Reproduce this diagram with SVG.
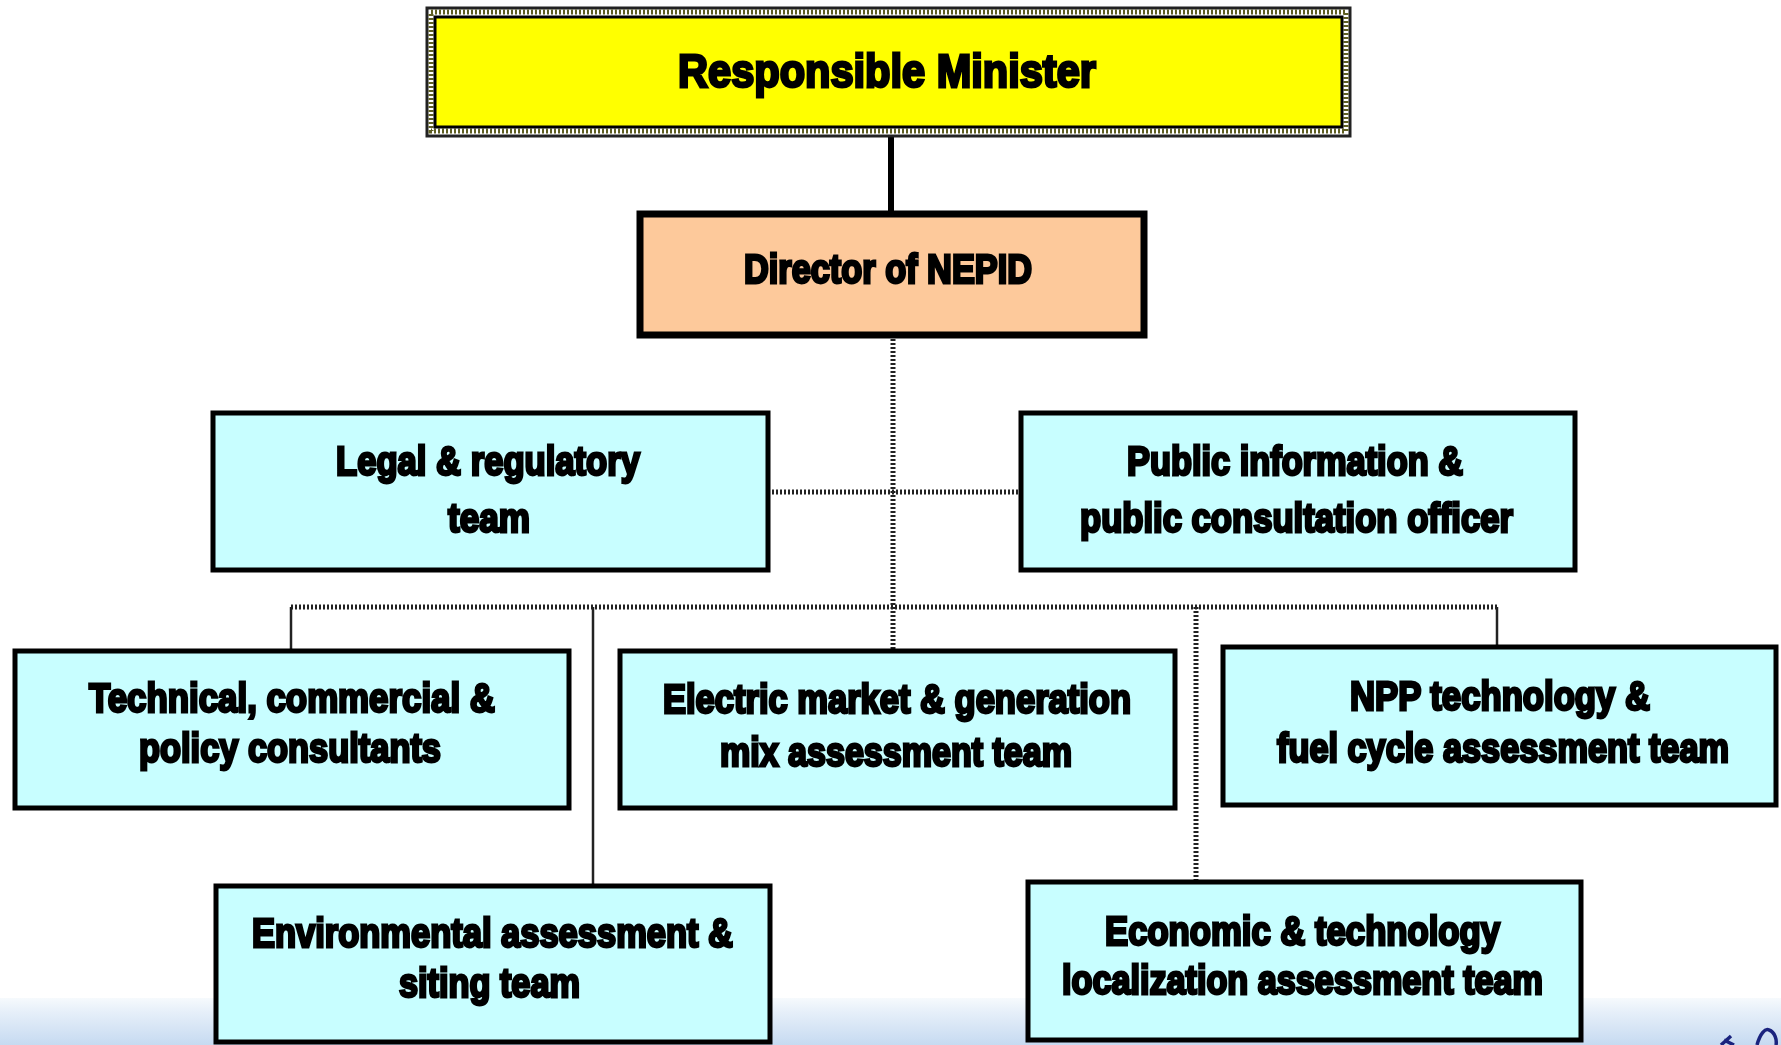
<svg xmlns="http://www.w3.org/2000/svg" width="1781" height="1045" viewBox="0 0 1781 1045">
<defs>
<linearGradient id="band" x1="0" y1="0" x2="0" y2="1"><stop offset="0" stop-color="#f6fafd"/><stop offset="0.3" stop-color="#e6eff9"/><stop offset="1" stop-color="#c6daf1"/></linearGradient>
<filter id="soft" x="-2%" y="-2%" width="104%" height="104%"><feGaussianBlur stdDeviation="0.5"/></filter>
</defs>
<style>
.t{font-family:"Liberation Sans",Arial,sans-serif;font-weight:700;font-size:40px;fill:#000;stroke:#000;stroke-width:2.8px}
.box{fill:#c8feff;stroke:#000;stroke-width:5px}
.edge{fill:none;stroke:#222;stroke-width:2.5px}
.d{fill:none;stroke:#222;stroke-width:5px;stroke-dasharray:2 2}
.heavy{fill:none;stroke:#000;stroke-width:6px}
</style>
<rect width="1781" height="1045" fill="#fff"/>
<rect id="footer" x="0" y="998" width="1781" height="47" fill="url(#band)"/>
<g filter="url(#soft)">
<g id="connectors">
<path class="heavy" d="M891 136V212"/>
<path class="d" d="M893 335V650"/>
<path class="d" d="M772 492H1020"/>
<path class="d" d="M291 607H1497"/>
<path class="edge" d="M291 607V650"/>
<path class="edge" d="M593 607V885"/>
<path class="d" d="M1196 607V880"/>
<path class="edge" d="M1497 607V645"/>
</g>
<g id="minister">
<rect x="427" y="8" width="923" height="128" fill="#fff" stroke="#222" stroke-width="3"/>
<rect x="431" y="12" width="915" height="119" fill="none" stroke="#5e5e20" stroke-width="5" stroke-dasharray="2 2"/>
<rect x="435" y="17" width="907" height="110" fill="#ffff00" stroke="#000" stroke-width="3"/>
<text class="t" x="678" y="87" textLength="418" lengthAdjust="spacingAndGlyphs" style="font-size:46px">Responsible Minister</text>
</g>
<g id="director">
<rect x="640" y="214" width="504" height="121" fill="#fdc99b" stroke="#000" stroke-width="7"/>
<text class="t" x="744" y="283" textLength="288" lengthAdjust="spacingAndGlyphs">Director of NEPID</text>
</g>
<g id="legal">
<rect class="box" x="213" y="413" width="555" height="157"/>
<text class="t" x="336" y="475" textLength="304" lengthAdjust="spacingAndGlyphs">Legal &amp; regulatory</text>
<text class="t" x="448" y="532" textLength="82" lengthAdjust="spacingAndGlyphs">team</text>
</g>
<g id="public">
<rect class="box" x="1021" y="413" width="554" height="157"/>
<text class="t" x="1127" y="475" textLength="336" lengthAdjust="spacingAndGlyphs">Public information &amp;</text>
<text class="t" x="1080" y="532" textLength="433" lengthAdjust="spacingAndGlyphs">public consultation officer</text>
</g>
<g id="technical">
<rect class="box" x="15" y="651" width="554" height="157"/>
<text class="t" x="89" y="712" textLength="406" lengthAdjust="spacingAndGlyphs">Technical, commercial &amp;</text>
<text class="t" x="139" y="762" textLength="302" lengthAdjust="spacingAndGlyphs">policy consultants</text>
</g>
<g id="electric">
<rect class="box" x="620" y="651" width="555" height="157"/>
<text class="t" x="663" y="713" textLength="468" lengthAdjust="spacingAndGlyphs">Electric market &amp; generation</text>
<text class="t" x="720" y="766" textLength="352" lengthAdjust="spacingAndGlyphs">mix assessment team</text>
</g>
<g id="npp">
<rect class="box" x="1223" y="647" width="553" height="158"/>
<text class="t" x="1350" y="710" textLength="300" lengthAdjust="spacingAndGlyphs">NPP technology &amp;</text>
<text class="t" x="1277" y="762" textLength="452" lengthAdjust="spacingAndGlyphs">fuel cycle assessment team</text>
</g>
<g id="environmental">
<rect class="box" x="216" y="886" width="554" height="156"/>
<text class="t" x="252" y="947" textLength="481" lengthAdjust="spacingAndGlyphs">Environmental assessment &amp;</text>
<text class="t" x="399" y="997" textLength="181" lengthAdjust="spacingAndGlyphs">siting team</text>
</g>
<g id="economic">
<rect class="box" x="1028" y="882" width="553" height="158"/>
<text class="t" x="1105" y="945" textLength="395" lengthAdjust="spacingAndGlyphs">Economic &amp; technology</text>
<text class="t" x="1062" y="994" textLength="481" lengthAdjust="spacingAndGlyphs">localization assessment team</text>
</g>
</g>
<g id="logo" fill="none" stroke="#1a237e" stroke-width="3.5">
<path d="M1731 1036L1721 1045M1724 1040L1734 1045"/>
<path d="M1757 1045C1760 1034 1765 1028 1769 1030C1775 1032 1777 1040 1776 1045"/>
</g>
</svg>
